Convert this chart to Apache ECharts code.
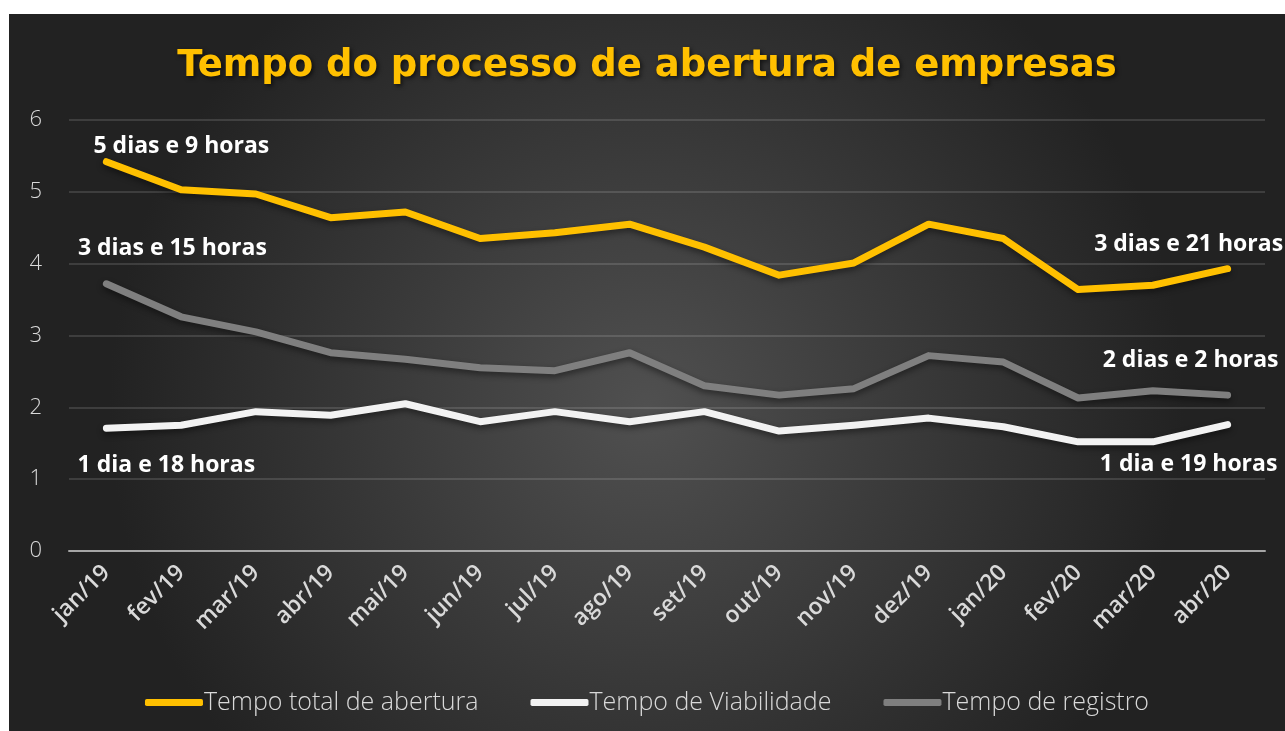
<!DOCTYPE html>
<html>
<head>
<meta charset="utf-8">
<script src="https://cdn.jsdelivr.net/npm/echarts@6/dist/echarts.min.js"></script>
<style>
	html, body { margin: 0; padding: 0; background: #fff; }
	#chart { position: absolute; left: 9px; top: 14px; width: 1276px; height: 717px; }
</style>
</head>
<body>
<div id="chart"></div>
<script>
const months = ['jan/19', 'fev/19', 'mar/19', 'abr/19', 'mai/19', 'jun/19', 'jul/19', 'ago/19',
	'set/19', 'out/19', 'nov/19', 'dez/19', 'jan/20', 'fev/20', 'mar/20', 'abr/20']

const seriesNames = ['Tempo total de abertura', 'Tempo de Viabilidade', 'Tempo de registro']

const totalAbertura = [5.42, 5.03, 4.97, 4.64, 4.72, 4.35, 4.43, 4.55, 4.23, 3.84, 4.01, 4.55, 4.35, 3.64, 3.70, 3.93]
const viabilidade = [1.71, 1.75, 1.94, 1.89, 2.05, 1.80, 1.94, 1.80, 1.94, 1.67, 1.75, 1.85, 1.73, 1.52, 1.52, 1.76]
const registro = [3.72, 3.26, 3.05, 2.76, 2.67, 2.55, 2.51, 2.76, 2.30, 2.17, 2.26, 2.72, 2.63, 2.13, 2.23, 2.17]

// first / last point annotations
const firstLabels = ['5 dias e 9 horas', '1 dia e 18 horas', '3 dias e 15 horas']
const lastLabels = ['3 dias e 21 horas', '1 dia e 19 horas', '2 dias e 2 horas']

const yTicks = [0, 1, 2, 3, 4, 5, 6]

const colors = ['#FFC000', '#F2F2F2', '#7F7F7F']
const firstOffsets = [[75, -15], [60, 37], [66, -35]]
const lastOffsets = [[-39, -24], [-39, 40], [-37, -35]]

const chart = echarts.init(document.getElementById('chart'))

const labelStyle = {
	color: '#ffffff',
	fontFamily: 'Open Sans',
	fontWeight: 'bold',
	fontSize: 23
}

const buildData = (values, idx) => values.map((v, i) => {
	if (i === 0 || i === values.length - 1) {
		const first = i === 0
		return {
			value: v,
			label: Object.assign({
				show: true,
				position: 'inside',
				formatter: first ? firstLabels[idx] : lastLabels[idx],
				offset: first ? firstOffsets[idx] : lastOffsets[idx]
			}, labelStyle)
		}
	}
	return v
})

const makeSeries = (name, values, idx) => ({
	name: name,
	type: 'line',
	data: buildData(values, idx),
	symbol: 'circle',
	symbolSize: 0,
	showSymbol: true,
	lineStyle: {
		width: 7,
		color: colors[idx],
		cap: 'round',
		join: 'round',
		shadowColor: 'rgba(0,0,0,0.45)',
		shadowBlur: 6,
		shadowOffsetY: 3
	},
	itemStyle: { color: colors[idx] },
	emphasis: { disabled: true },
	z: idx === 1 ? 3 : 2
})

const option = {
	animation: false,
	backgroundColor: new echarts.graphic.RadialGradient(0.5, 0.55, 0.75, [
		{ offset: 0, color: '#505050' },
		{ offset: 1, color: '#222222' }
	]),
	color: colors,
	title: {
		text: 'Tempo do processo de abertura de empresas',
		left: 'center',
		top: 29,
		textStyle: {
			color: '#FFC000',
			fontFamily: 'DejaVu Sans',
			fontWeight: 'bold',
			fontSize: 37,
			textShadowColor: 'rgba(0,0,0,0.6)',
			textShadowBlur: 4,
			textShadowOffsetX: 2,
			textShadowOffsetY: 2
		}
	},
	grid: {
		left: 60,
		right: 20,
		top: 106,
		bottom: 180
	},
	legend: {
		data: seriesNames,
		bottom: 11,
		left: 'center',
		icon: 'roundRect',
		itemWidth: 58,
		itemHeight: 7,
		itemGap: 52,
		textStyle: {
			color: '#d9d9d9',
			fontFamily: 'Open Sans',
			fontWeight: 300,
			fontSize: 25,
			padding: [0, 0, 0, -4]
		}
	},
	xAxis: {
		type: 'category',
		data: months,
		boundaryGap: true,
		axisTick: { show: false },
		axisLine: { lineStyle: { color: '#a6a6a6', width: 2 } },
		axisLabel: {
			rotate: 45,
			margin: 18,
			interval: 0,
			color: '#d9d9d9',
			fontFamily: 'Open Sans',
			fontWeight: 600,
			fontSize: 23
		}
	},
	yAxis: {
		type: 'value',
		min: yTicks[0],
		max: yTicks[yTicks.length - 1],
		interval: 1,
		axisLine: { show: false },
		axisTick: { show: false },
		axisLabel: {
			margin: 27,
			color: '#d9d9d9',
			fontFamily: 'Open Sans',
			fontWeight: 300,
			fontSize: 22
		},
		splitLine: { lineStyle: { color: 'rgba(255,255,255,0.13)', width: 2 } }
	},
	series: [
		makeSeries(seriesNames[0], totalAbertura, 0),
		makeSeries(seriesNames[1], viabilidade, 1),
		makeSeries(seriesNames[2], registro, 2)
	]
}

chart.setOption(option)
</script>
</body>
</html>
